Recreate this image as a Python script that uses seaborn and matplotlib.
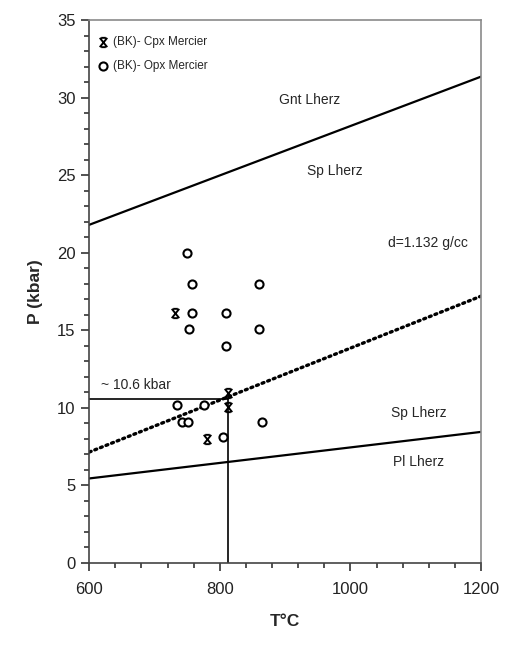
import matplotlib
matplotlib.use("Agg")
import matplotlib.pyplot as plt
from matplotlib.path import Path
import seaborn as sns
import pandas as pd

# ---- data ----
opx_T = [750, 757, 860, 757, 810, 753, 860, 810, 735, 775, 742, 752, 805, 864]
opx_P = [20.0, 18.0, 18.0, 16.1, 16.1, 15.1, 15.1, 14.0, 10.2, 10.2, 9.1, 9.1, 8.1, 9.1]
cpx_T = [731, 812, 813, 780]
cpx_P = [16.1, 10.95, 10.05, 8.0]

gnt_sp_T = [600, 1200]
gnt_sp_P = [21.8, 31.35]
sp_pl_T = [600, 1200]
sp_pl_P = [5.45, 8.45]
density_T = [600, 1200]
density_P = [7.15, 17.2]

iso_P = 10.6
iso_T = 813

sns.set_style("ticks")
plt.rcParams['font.family'] = ['Liberation Sans', 'DejaVu Sans']

fig = plt.figure(figsize=(5.13, 6.46), dpi=100)
ax = fig.add_axes([0.174, 0.1285, 0.7636, 0.8405])

# boundary lines
sns.lineplot(x=gnt_sp_T, y=gnt_sp_P, ax=ax, color='black', linewidth=1.6)
sns.lineplot(x=sp_pl_T, y=sp_pl_P, ax=ax, color='black', linewidth=1.6)
sns.lineplot(x=density_T, y=density_P, ax=ax, color='black', linewidth=2.4,
             linestyle=(0, (0.6, 1.2)), dash_capstyle='round')

# guide lines for ~10.6 kbar
ax.plot([600, iso_T], [iso_P, iso_P], color='black', linewidth=1.2)
ax.plot([iso_T, iso_T], [0, iso_P], color='black', linewidth=1.2)

# custom marker: X with short top and bottom bars
verts = [(-0.8, -1), (0.8, 1), (-0.8, 1), (0.8, -1),
         (-0.5, 1), (0.5, 1), (-0.5, -1), (0.5, -1)]
codes = [Path.MOVETO, Path.LINETO] * 4
xbar = Path(verts, codes)

opx_df = pd.DataFrame({'T': opx_T, 'P': opx_P})
cpx_df = pd.DataFrame({'T': cpx_T, 'P': cpx_P})

sns.scatterplot(data=cpx_df, x='T', y='P', ax=ax, marker=xbar, s=45,
                color='black', edgecolor='black', linewidth=1.4,
                label='(BK)- Cpx Mercier', zorder=6)
sns.scatterplot(data=opx_df, x='T', y='P', ax=ax, marker='o', s=34,
                facecolor='white', edgecolor='black', linewidth=1.5,
                label='(BK)- Opx Mercier', zorder=5)

ax.set_xlim(600, 1200)
ax.set_ylim(0, 35)
ax.set_xticks([600, 800, 1000, 1200])
ax.set_yticks(range(0, 36, 5))
ax.set_xticks(range(600, 1201, 40), minor=True)
ax.set_yticks(range(0, 36, 1), minor=True)
ax.tick_params(axis='both', which='major', labelsize=12, length=6, width=1.2,
               color='#333333', labelcolor='#222222', direction='out', pad=4)
ax.tick_params(axis='both', which='minor', length=3.5, width=1.2, color='#333333',
               direction='out')
ax.tick_params(axis='x', which='major', pad=8)
for sp in ax.spines.values():
    sp.set_color('#8a8a8a')
    sp.set_linewidth(1.2)
ax.spines['left'].set_color('#444444')
ax.spines['bottom'].set_color('#444444')

ax.set_xlabel('T°C', fontsize=12.5, fontweight='bold', labelpad=12)
ax.set_ylabel('P (kbar)', fontsize=12.5, fontweight='bold', labelpad=10)

# annotations
ax.text(938, 29.85, 'Gnt Lherz', fontsize=10, ha='center', va='center')
ax.text(976, 25.3, 'Sp Lherz', fontsize=10, ha='center', va='center')
ax.text(1119, 20.6, 'd=1.132 g/cc', fontsize=10, ha='center', va='center')
ax.text(1104, 9.7, 'Sp Lherz', fontsize=10, ha='center', va='center')
ax.text(1104, 6.5, 'Pl Lherz', fontsize=10, ha='center', va='center')
ax.text(618, 11.5, '~ 10.6 kbar', fontsize=10, ha='left', va='center')

handles, labels = ax.get_legend_handles_labels()
leg = ax.legend(handles, labels,
                loc='upper left', bbox_to_anchor=(0.0, 0.985), frameon=False,
                fontsize=8.5, handletextpad=0.3, labelspacing=1.0,
                borderaxespad=0.3, handlelength=1.0)

fig.savefig('out.png', dpi=100)
